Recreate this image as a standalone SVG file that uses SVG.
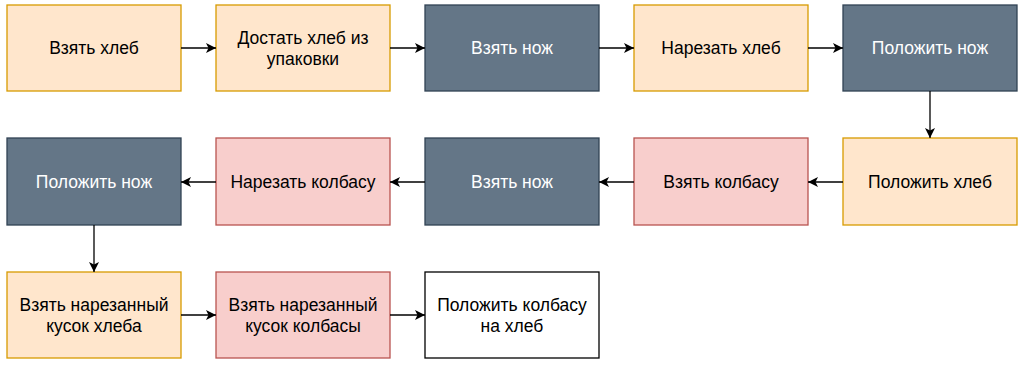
<svg xmlns="http://www.w3.org/2000/svg" width="1029" height="375" viewBox="0 0 1029 375">
<style>
.o{fill:#ffe6cc;stroke:#d79b00;stroke-width:1.3}
.d{fill:#647687;stroke:#314354;stroke-width:1.3}
.r{fill:#f8cecc;stroke:#b85450;stroke-width:1.3}
.w{fill:#ffffff;stroke:#000000;stroke-width:1.3}
text{font-family:"Liberation Sans",Arial,sans-serif;font-size:17.5px;text-anchor:middle;fill:#000}
text.l{fill:#ffffff}
.c line{stroke:#000;stroke-width:1.3}
</style>
<defs>
<marker id="a" viewBox="0 0 10 10" refX="10" refY="5" markerWidth="10" markerHeight="10" markerUnits="userSpaceOnUse" orient="auto">
<path d="M0,0 L10,5 L0,10 L2.5,5 Z" fill="#000"/>
</marker>
</defs>
<rect width="1029" height="375" fill="#fff"/>
<g id="n1"><rect class="o" x="7" y="5" width="174" height="86"/><text x="94" y="54">Взять хлеб</text></g>
<g id="n2"><rect class="o" x="216" y="5" width="174" height="86"/><text x="303" y="43.5">Достать хлеб из</text><text x="303" y="64.5">упаковки</text></g>
<g id="n3"><rect class="d" x="425" y="5" width="174" height="86"/><text class="l" x="512" y="54">Взять нож</text></g>
<g id="n4"><rect class="o" x="634" y="5" width="174" height="86"/><text x="721" y="54">Нарезать хлеб</text></g>
<g id="n5"><rect class="d" x="843" y="5" width="174" height="86"/><text class="l" x="930" y="54">Положить нож</text></g>
<g id="n6"><rect class="o" x="843" y="138" width="174" height="87"/><text x="930" y="187.5">Положить хлеб</text></g>
<g id="n7"><rect class="r" x="634" y="138" width="174" height="87"/><text x="721" y="187.5">Взять колбасу</text></g>
<g id="n8"><rect class="d" x="425" y="138" width="174" height="87"/><text class="l" x="512" y="187.5">Взять нож</text></g>
<g id="n9"><rect class="r" x="216" y="138" width="174" height="87"/><text x="303" y="187.5">Нарезать колбасу</text></g>
<g id="n10"><rect class="d" x="7" y="138" width="174" height="87"/><text class="l" x="94" y="187.5">Положить нож</text></g>
<g id="n11"><rect class="o" x="7" y="272" width="174" height="86"/><text x="94" y="310.5">Взять нарезанный</text><text x="94" y="331.5">кусок хлеба</text></g>
<g id="n12"><rect class="r" x="216" y="272" width="174" height="86"/><text x="303" y="310.5">Взять нарезанный</text><text x="303" y="331.5">кусок колбасы</text></g>
<g id="n13"><rect class="w" x="425" y="272" width="174" height="86"/><text x="512" y="310.5">Положить колбасу</text><text x="512" y="331.5">на хлеб</text></g>
<g class="c" id="connectors">
<line x1="181" y1="48" x2="216" y2="48" marker-end="url(#a)"/>
<line x1="390" y1="48" x2="425" y2="48" marker-end="url(#a)"/>
<line x1="599" y1="48" x2="634" y2="48" marker-end="url(#a)"/>
<line x1="808" y1="48" x2="843" y2="48" marker-end="url(#a)"/>
<line x1="930" y1="91" x2="930" y2="138" marker-end="url(#a)"/>
<line x1="843" y1="182" x2="808" y2="182" marker-end="url(#a)"/>
<line x1="634" y1="182" x2="599" y2="182" marker-end="url(#a)"/>
<line x1="425" y1="182" x2="390" y2="182" marker-end="url(#a)"/>
<line x1="216" y1="182" x2="181" y2="182" marker-end="url(#a)"/>
<line x1="94" y1="225" x2="94" y2="272" marker-end="url(#a)"/>
<line x1="181" y1="315" x2="216" y2="315" marker-end="url(#a)"/>
<line x1="390" y1="315" x2="425" y2="315" marker-end="url(#a)"/>
</g>
</svg>
